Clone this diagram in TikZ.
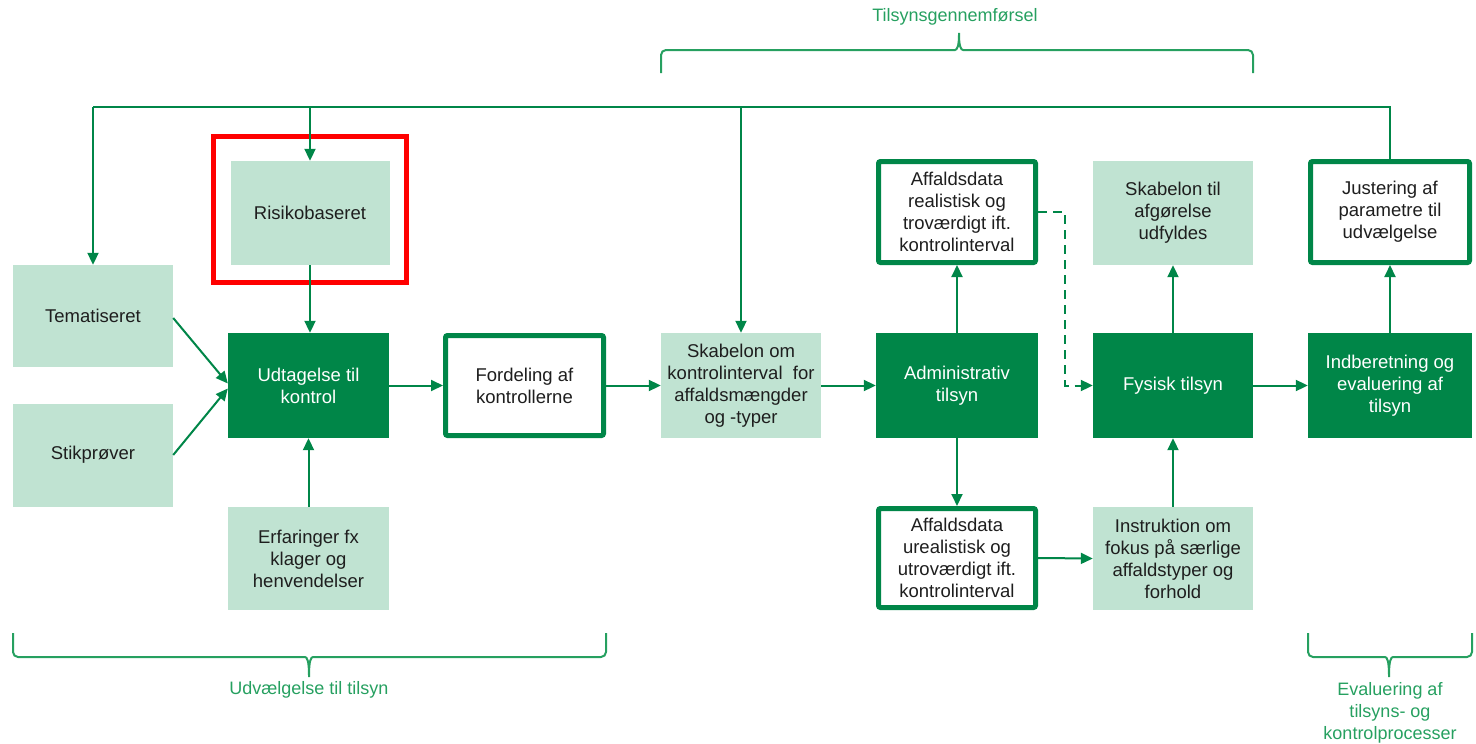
\documentclass[tikz,border=0pt]{standalone}
\usepackage{fontspec}
\setmainfont{Liberation Sans}
\usetikzlibrary{arrows.meta}
\definecolor{dg}{RGB}{0,134,72}
\definecolor{lg}{RGB}{192,227,210}
\definecolor{bt}{RGB}{38,160,96}
\definecolor{tx}{RGB}{30,30,30}
\tikzset{
  base/.style={rectangle, align=center, font=\fontsize{18.5}{22}\selectfont, inner sep=0pt},
  light/.style={base, fill=lg, text=tx, minimum width=160pt, minimum height=104pt},
  dark/.style={base, fill=dg, text=white, minimum width=161pt, minimum height=105pt},
  framed/.style={base, fill=white, draw=dg, line width=5pt, rounded corners=2pt, text=tx, minimum width=158pt, minimum height=101pt},
  conn/.style={draw=dg, line width=2pt},
  arr/.style={conn, -{Triangle[length=12pt,width=11pt]}},
  brace/.style={draw=bt, line width=2pt, rounded corners=5pt},
  blabel/.style={text=bt, font=\fontsize{18}{22}\selectfont, align=center},
}
\begin{document}
\begin{tikzpicture}[x=1pt,y=-1pt]
\useasboundingbox (0,0) rectangle (1476,744);
% nodes
\node[light, minimum height=102pt] (tem) at (93,316) {Tematiseret};
\node[light, minimum height=103pt] (stik) at (93,455) {Stikprøver};
\node[light, minimum width=159pt] (risk) at (310,213) {Risikobaseret};
\node[dark] (udt) at (308.5,385.5) {Udtagelse til\\kontrol};
\node[light, minimum width=161pt, minimum height=103pt] (erf) at (308.5,558.5) {Erfaringer fx\\klager og\\henvendelser};
\node[framed, minimum height=100pt] (ford) at (524.5,385.5) {Fordeling af\\kontrollerne};
\node[light, minimum height=105pt] (skab) at (741,385.5) {Skabelon om\\kontrolinterval\ \ for\\affaldsmængder\\og -typer};
\node[dark, minimum width=162pt] (adm) at (957,385.5) {Administrativ\\tilsyn};
\node[framed, minimum width=157pt] (real) at (957,212) {Affaldsdata\\realistisk og\\troværdigt ift.\\kontrolinterval};
\node[framed, minimum width=157pt, minimum height=99pt] (ureal) at (957,558) {Affaldsdata\\urealistisk og\\utroværdigt ift.\\kontrolinterval};
\node[light] (afg) at (1173,213) {Skabelon til\\afgørelse\\udfyldes};
\node[dark, minimum width=160pt] (fys) at (1173,385.5) {Fysisk tilsyn};
\node[light, minimum height=103pt] (inst) at (1173,558.5) {Instruktion om\\fokus på særlige\\affaldstyper og\\forhold};
\node[framed, minimum width=159pt] (just) at (1390,212) {Justering af\\parametre til\\udvælgelse};
\node[dark, minimum width=164pt] (indb) at (1390,385.5) {Indberetning og\\evaluering af\\tilsyn};
% red highlight frame
\node[draw=red, line width=5pt, minimum width=193pt, minimum height=146pt, inner sep=0pt] (hl) at (310,209.5) {};
% top feedback line
\coordinate (topline) at (0,107);
\draw[conn] (just.north) -- (just.north |- topline) -- (tem.north |- topline);
\draw[arr] (tem.north |- topline) -- (tem.north);
\draw[arr] (risk.north |- topline) -- (risk.north);
\draw[arr] (skab.north |- topline) -- (skab.north);
% main flow
\draw[arr] ([yshift=-2pt]tem.east) -- ([yshift=2pt]udt.west);
\draw[arr] (stik.east) -- ([yshift=-3pt]udt.west);
\draw[arr] (risk.south) -- (risk.south |- udt.north);
\draw[arr] (erf.north) -- (udt.south);
\draw[arr] (udt.east) -- (ford.west);
\draw[arr] (ford.east) -- (skab.west);
\draw[arr] (skab.east) -- (adm.west);
\draw[arr] (adm.north) -- (real.south);
\draw[arr] (adm.south) -- (ureal.north);
\draw[arr] (ureal.east) -- (inst.west);
\draw[arr] (inst.north) -- (fys.south);
\draw[arr] (fys.north) -- (afg.south);
\draw[arr] (fys.east) -- (indb.west);
\draw[arr] (indb.north) -- (just.south);
\draw[arr, dash pattern=on 9pt off 6pt] (real.east) -- ++(27,0) |- (fys.west);
% braces
\draw[brace] (661,73) -- (661,50) -- (950,50) .. controls (957,50) and (959,46) .. (959,30) .. controls (959,46) and (961,50) .. (968,50) -- (1253,50) -- (1253,73);
\node[blabel] (lt) at (955,17) {Tilsynsgennemførsel};
\draw[brace] (13,633) -- (13,657) -- (300,657) .. controls (307,657) and (309,661) .. (309,680) .. controls (309,661) and (311,657) .. (318,657) -- (606,657) -- (606,633);
\node[blabel] (lb) at (309,690) {Udvælgelse til tilsyn};
\draw[brace] (1308,633) -- (1308,657) -- (1380,657) .. controls (1387,657) and (1389,661) .. (1389,680) .. controls (1389,661) and (1391,657) .. (1398,657) -- (1472,657) -- (1472,633);
\node[blabel, anchor=north] (lr) at (1390,679) {Evaluering af\\tilsyns- og\\kontrolprocesser};
\end{tikzpicture}
\end{document}
